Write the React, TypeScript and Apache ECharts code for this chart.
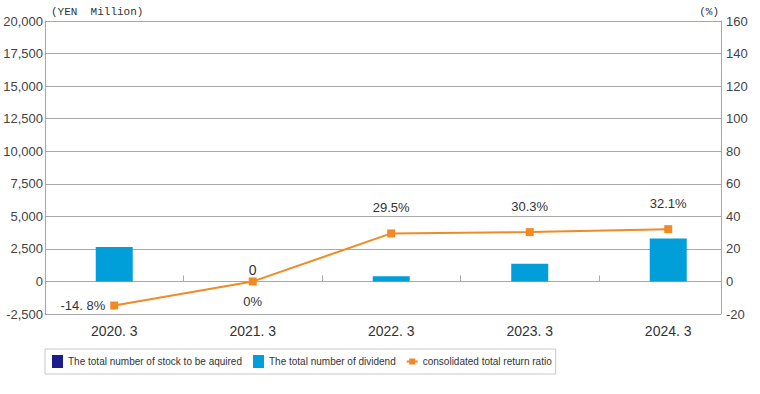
import React, { useEffect, useRef } from "react";
import * as echarts from "echarts";

const categories = ["2020. 3", "2021. 3", "2022. 3", "2023. 3", "2024. 3"];
const stockAcquired = [0, 0, 0, 0, 0];
const dividend = [2650, 0, 400, 1350, 3300];
const returnRatio = [-14.8, 0, 29.5, 30.3, 32.1];
const ratioLabels = ["-14. 8%", "0%", "29.5%", "30.3%", "32.1%"];
const leftAxis = { min: -2500, max: 20000, interval: 2500 };
const rightAxis = { min: -20, max: 160, interval: 20 };

const SANS = "'Liberation Sans', Arial, sans-serif";
const LINE_ICON = "path://M0,5.5L11,5.5L11,7.5L0,7.5Z M2.5,3.5L8.5,3.5L8.5,9.5L2.5,9.5Z";

export default function App() {
  const ref = useRef<HTMLDivElement>(null);
  useEffect(() => {
    if (!ref.current) return;
    const chart = echarts.init(ref.current, null, { renderer: "svg" });
    const xMin = -0.5;
    const xMax = 4.381;
    chart.setOption({
      animation: false,
      backgroundColor: "#ffffff",
      grid: { left: 45, right: 39, top: 21, bottom: 80, containLabel: false },
      legend: {
        show: true,
        left: 45,
        top: 349,
        orient: "horizontal",
        borderColor: "#c8c8c8",
        borderWidth: 1,
        padding: [6, 4, 6, 7],
        itemGap: 11,
        itemWidth: 11,
        itemHeight: 13,
        textStyle: { fontFamily: SANS, fontSize: 10, color: "#333" },
        data: [
          { name: "The total number of stock to be aquired", icon: "rect" },
          { name: "The total number of dividend", icon: "rect" },
          { name: "consolidated total return ratio", icon: LINE_ICON },
        ],
      },
      xAxis: [
        {
          type: "value",
          min: xMin,
          max: xMax,
          minInterval: 1,
          maxInterval: 1,
          position: "bottom",
          axisLine: { show: false, onZero: false },
          axisTick: { show: false },
          splitLine: { show: false },
          axisLabel: {
            showMinLabel: false,
            showMaxLabel: false,
            margin: 10,
            fontFamily: SANS,
            fontSize: 14,
            color: "#333",
            formatter: (v: number) =>
              Number.isInteger(v) && categories[v] !== undefined ? categories[v] : "",
          },
        },
        {
          type: "value",
          min: xMin - 0.5,
          max: xMax - 0.5,
          minInterval: 1,
          maxInterval: 1,
          position: "top",
          axisLine: { show: true, onZero: true, onZeroAxisIndex: 0, lineStyle: { color: "#a8a8a8", width: 1 } },
          axisTick: { show: true, inside: false, length: 6, lineStyle: { color: "#a8a8a8" } },
          axisLabel: { show: false },
          splitLine: { show: false },
        },
      ],
      yAxis: [
        {
          type: "value",
          position: "left",
          min: leftAxis.min,
          max: leftAxis.max,
          interval: leftAxis.interval,
          name: "(YEN  Million)",
          nameLocation: "end",
          nameGap: 4,
          nameTextStyle: {
            align: "left",
            verticalAlign: "bottom",
            padding: [0, 0, 0, 6],
            fontFamily: "'Liberation Mono', monospace",
            fontSize: 11,
            color: "#333",
          },
          axisLine: { show: true, onZero: false, lineStyle: { color: "#a8a8a8" } },
          axisTick: { show: false },
          splitLine: { show: true, lineStyle: { color: "#a8a8a8", width: 1 } },
          axisLabel: {
            margin: 2,
            fontFamily: SANS,
            fontSize: 13,
            color: "#444",
            formatter: (v: number) => v.toLocaleString("en-US"),
          },
        },
        {
          type: "value",
          position: "right",
          min: rightAxis.min,
          max: rightAxis.max,
          interval: rightAxis.interval,
          name: "(%)",
          nameLocation: "end",
          nameGap: 4,
          nameTextStyle: {
            align: "right",
            verticalAlign: "bottom",
            padding: [0, 2, 0, 0],
            fontFamily: "'Liberation Mono', monospace",
            fontSize: 11,
            color: "#333",
          },
          axisLine: { show: true, onZero: false, lineStyle: { color: "#a8a8a8" } },
          axisTick: { show: false },
          splitLine: { show: false },
          axisLabel: { margin: 5, fontFamily: SANS, fontSize: 13, color: "#444" },
        },
      ],
      series: [
        {
          name: "The total number of stock to be aquired",
          type: "bar",
          stack: "total",
          xAxisIndex: 0,
          yAxisIndex: 0,
          barWidth: 37,
          itemStyle: { color: "#1c1c8a" },
          data: stockAcquired.map((v, i) => [i, v]),
        },
        {
          name: "The total number of dividend",
          type: "bar",
          stack: "total",
          xAxisIndex: 0,
          yAxisIndex: 0,
          barWidth: 37,
          itemStyle: { color: "#009fd9" },
          data: dividend.map((v, i) =>
            v === 0
              ? {
                  value: [i, v],
                  label: {
                    show: true,
                    position: "top",
                    distance: 4,
                    formatter: String(v),
                    fontFamily: SANS,
                    fontSize: 14,
                    color: "#333",
                  },
                }
              : { value: [i, v] }
          ),
        },
        {
          name: "consolidated total return ratio",
          type: "line",
          xAxisIndex: 0,
          yAxisIndex: 1,
          symbol: "rect",
          symbolSize: 8,
          lineStyle: { color: "#f08a24", width: 2 },
          itemStyle: { color: "#f08a24" },
          label: {
            show: true,
            position: "top",
            distance: 15,
            fontFamily: SANS,
            fontSize: 13,
            color: "#333",
          },
          data: returnRatio.map((v, i) => {
            const item: any = { value: [i, v], label: { formatter: ratioLabels[i] } };
            if (v < 0) item.label = { ...item.label, position: "left", distance: 5 };
            else if (v === 0) item.label = { ...item.label, position: "bottom", distance: 10 };
            return item;
          }),
        },
      ],
    });
    return () => chart.dispose();
  }, []);
  return (
    <div
      ref={ref}
      style={{ position: "fixed", left: 0, top: 0, width: 760, height: 394, background: "#fff" }}
    />
  );
}
